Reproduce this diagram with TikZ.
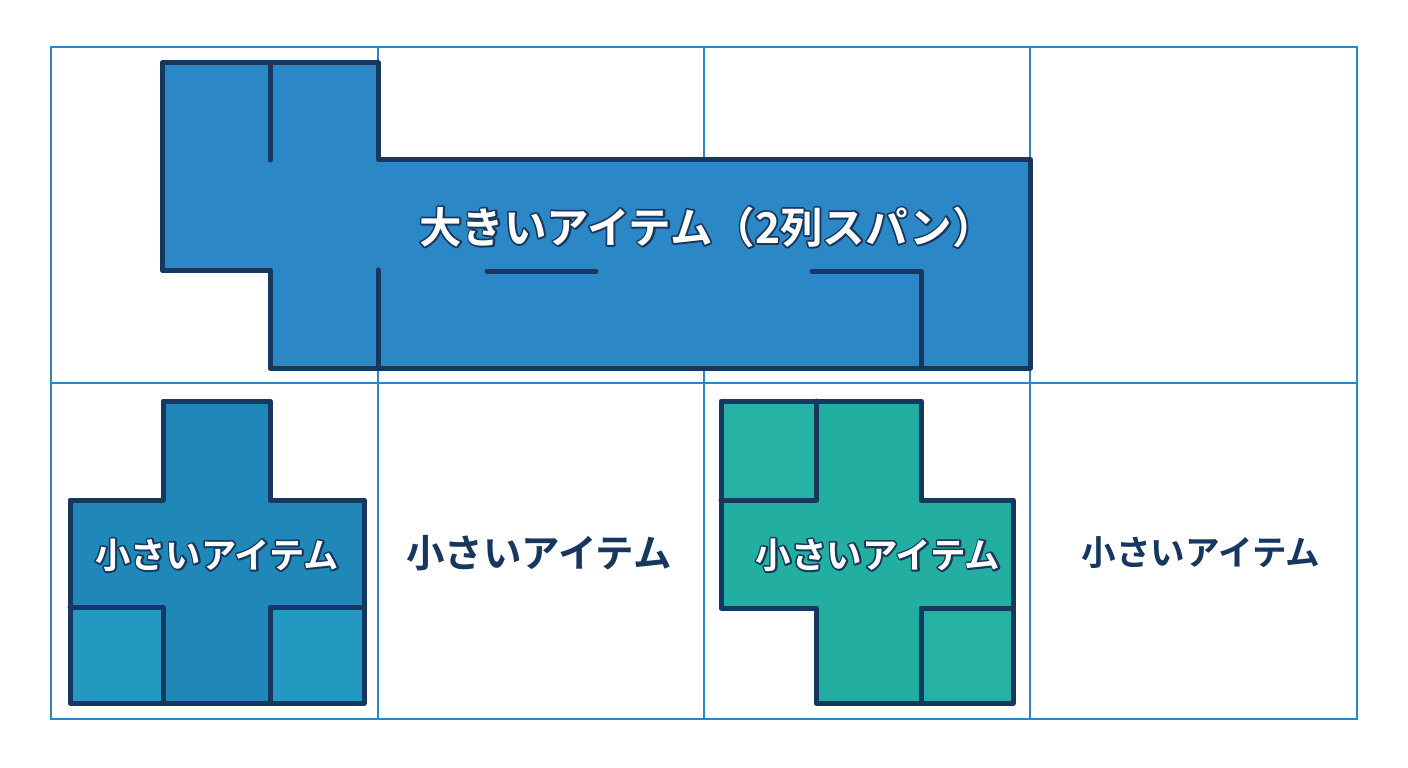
\documentclass[tikz,border=0pt]{standalone}
\usepackage{fontspec}
\newfontfamily\jpb{Noto Sans CJK JP Bold}
\definecolor{gridblue}{HTML}{2E86C1}
\definecolor{navy}{HTML}{17375E}
\definecolor{bigblue}{HTML}{2B87C6}
\definecolor{smallblue}{HTML}{1F88B8}
\definecolor{smallsq}{HTML}{2399C1}
\definecolor{tealfill}{HTML}{22AEA0}
\definecolor{tealsq}{HTML}{25B2A4}
\tikzset{
  gridline/.style={draw=gridblue,line width=2.8pt},
  piece/.style={draw=navy,line width=5pt,line join=round},
  wall/.style={draw=navy,line width=5pt,line cap=round,line join=round},
  plain/.style={font=\jpb,text=navy,inner sep=0pt},
  outl/.style={font=\jpb,text=white,inner sep=0pt},
}
% outlined white text inside one node: stroked copy under a filled copy
\newcommand\olt[1]{\rlap{\special{pdf:literal direct 1 Tr 3.6 w 1 j 0.09 0.216 0.369 RG}#1\special{pdf:literal direct 0 Tr}}#1}
\begin{document}
\begin{tikzpicture}[x=1pt,y=-1pt]
\useasboundingbox (0,0) rectangle (1408,768);
\fill[white] (0,0) rectangle (1408,768);
% grid
\draw[gridline] (51,47) rectangle (1357,719);
\draw[gridline] (378,47) -- (378,719);
\draw[gridline] (704,47) -- (704,719);
\draw[gridline] (1030,47) -- (1030,719);
\draw[gridline] (51,383) -- (1357,383);
% large item
\path[piece,fill=bigblue] (162,63) -- (378,63) -- (378,159) -- (1030,159) -- (1030,368) -- (270,368) -- (270,270) -- (162,270) -- cycle;
\draw[wall] (270,63) -- (270,160);
\draw[wall] (378,270) -- (378,368);
\draw[wall] (487,271) -- (596,271);
\draw[wall] (812,271) -- (921,271) -- (921,368);
\node[outl,font=\jpb\fontsize{42.5}{46}\selectfont] (big) at (707,227) {\olt{大きいアイテム（2列スパン）}};
% small item 1
\path[fill=smallsq] (70,607) rectangle (163,703);
\path[fill=smallsq] (270,607) rectangle (364,703);
\path[fill=smallblue] (163,401) -- (270,401) -- (270,500) -- (364,500) -- (364,607) -- (270,607) -- (270,703) -- (163,703) -- (163,607) -- (70,607) -- (70,500) -- (163,500) -- cycle;
\draw[piece] (163,401) -- (270,401) -- (270,500) -- (364,500) -- (364,703) -- (70,703) -- (70,500) -- (163,500) -- cycle;
\draw[wall] (70,607) -- (163,607) -- (163,703);
\draw[wall] (364,607) -- (270,607) -- (270,703);
\node[outl,font=\jpb\fontsize{35.3}{40}\selectfont] (s1) at (217,555) {\olt{小さいアイテム}};
% small item 2 (plain)
\node[plain,font=\jpb\fontsize{38.5}{42}\selectfont] (s2) at (539,553) {小さいアイテム};
% small item 3 (teal)
\path[fill=tealsq] (721,401) rectangle (816,500);
\path[fill=tealsq] (921,608) rectangle (1013,703);
\path[fill=tealfill] (816,401) -- (921,401) -- (921,500) -- (1013,500) -- (1013,608) -- (921,608) -- (921,703) -- (816,703) -- (816,608) -- (721,608) -- (721,500) -- (816,500) -- cycle;
\draw[piece] (721,401) -- (921,401) -- (921,500) -- (1013,500) -- (1013,703) -- (816,703) -- (816,608) -- (721,608) -- cycle;
\draw[wall] (816,401) -- (816,500) -- (721,500);
\draw[wall] (1013,608) -- (921,608) -- (921,703);
\node[outl,font=\jpb\fontsize{35.5}{40}\selectfont] (s3) at (878,555) {\olt{小さいアイテム}};
% small item 4 (plain)
\node[plain,font=\jpb\fontsize{34.6}{40}\selectfont] (s4) at (1201,553) {小さいアイテム};
\end{tikzpicture}
\end{document}
